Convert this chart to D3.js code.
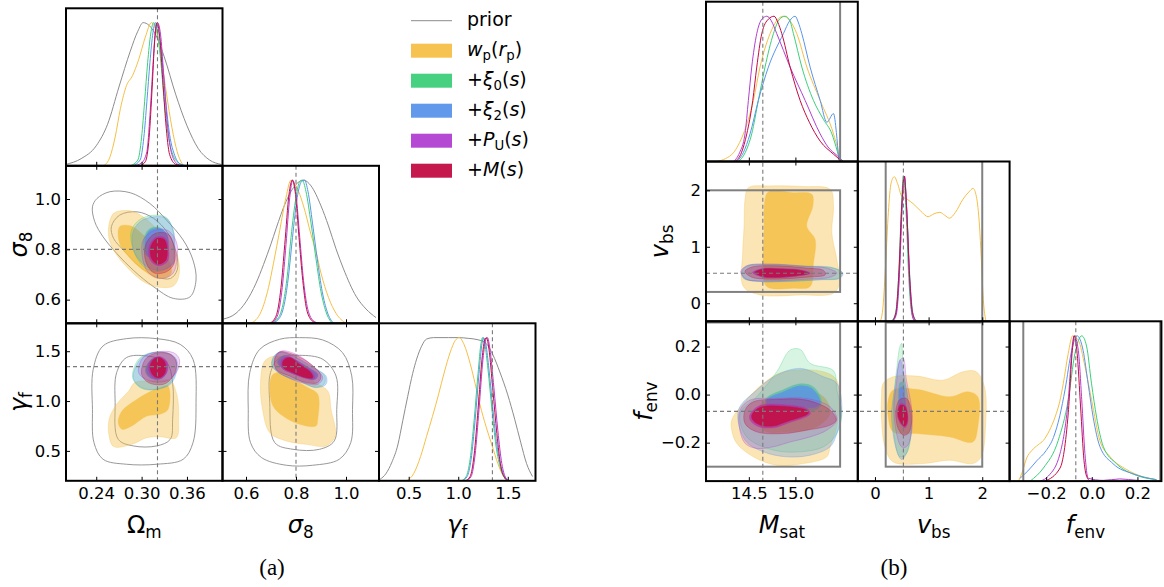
<!DOCTYPE html>
<html>
<head>
<meta charset="utf-8">
<script src="https://cdnjs.cloudflare.com/ajax/libs/d3/7.8.5/d3.min.js"></script>
<style>body{margin:0;background:#fff}</style>
</head>
<body>
<script>
// ---------- (a) cosmology ----------
const omDomain = [0.2, 0.407];
const s8Domain = [0.506, 1.132];
const gfDomain = [0.2, 1.78];
const omTicks = [0.24, 0.30, 0.36];
const s8Ticks = [0.6, 0.8, 1.0];
const gfTicks = [0.5, 1.0, 1.5];
const truthA = [0.321, 0.8, 1.345];

// 1D marginals [value, peak-normalised density]
const omPrior = [[0.2,0.01],[0.22,0.05],[0.24,0.14],[0.255,0.29],[0.27,0.55],[0.285,0.8],[0.295,0.94],[0.302,1.0],[0.31,0.98],[0.32,0.9],[0.33,0.76],[0.345,0.5],[0.36,0.28],[0.375,0.12],[0.39,0.04],[0.405,0.01]];
const omWp = [[0.25,0],[0.258,0.06],[0.265,0.2],[0.272,0.4],[0.28,0.56],[0.288,0.63],[0.296,0.74],[0.305,0.9],[0.313,1.0],[0.32,0.93],[0.327,0.72],[0.333,0.5],[0.34,0.27],[0.347,0.1],[0.355,0]];
const omXi0 = [[0.285,0],[0.295,0.04],[0.3,0.2],[0.304,0.45],[0.308,0.72],[0.312,0.92],[0.316,1.0],[0.32,0.95],[0.325,0.75],[0.33,0.45],[0.335,0.22],[0.342,0.07],[0.352,0.01],[0.36,0]];
const omXi2 = [[0.288,0],[0.298,0.04],[0.303,0.2],[0.307,0.45],[0.311,0.72],[0.315,0.93],[0.3185,1.0],[0.322,0.95],[0.327,0.75],[0.332,0.45],[0.337,0.22],[0.344,0.07],[0.352,0.01],[0.36,0]];
const omPu = [[0.29,0],[0.3,0.02],[0.307,0.1],[0.311,0.35],[0.315,0.7],[0.318,0.93],[0.321,1.0],[0.325,0.92],[0.329,0.65],[0.334,0.3],[0.34,0.08],[0.348,0.01],[0.355,0]];
const omMs = [[0.298,0],[0.305,0.03],[0.31,0.2],[0.314,0.55],[0.317,0.85],[0.3205,1.0],[0.324,0.9],[0.328,0.6],[0.332,0.3],[0.337,0.08],[0.345,0.01],[0.352,0]];

const s8Prior = [[0.51,0.03],[0.56,0.07],[0.6,0.15],[0.64,0.28],[0.67,0.41],[0.7,0.555],[0.72,0.66],[0.76,0.85],[0.8,0.97],[0.83,1.0],[0.86,0.96],[0.9,0.82],[0.93,0.68],[0.96,0.52],[0.99,0.38],[1.04,0.19],[1.08,0.1],[1.12,0.04]];
const s8Wp = [[0.62,0],[0.66,0.08],[0.69,0.25],[0.71,0.42],[0.735,0.65],[0.76,0.88],[0.78,1.0],[0.8,0.96],[0.83,0.82],[0.86,0.62],[0.88,0.5],[0.9,0.35],[0.93,0.18],[0.96,0.07],[1.0,0]];
const s8Xi0 = [[0.7,0],[0.73,0.04],[0.75,0.15],[0.765,0.33],[0.78,0.6],[0.8,0.88],[0.815,0.99],[0.825,1.0],[0.84,0.92],[0.86,0.7],[0.88,0.45],[0.9,0.22],[0.92,0.08],[0.945,0]];
const s8Xi2 = [[0.705,0],[0.735,0.04],[0.755,0.15],[0.77,0.33],[0.786,0.6],[0.805,0.88],[0.822,0.99],[0.834,1.0],[0.848,0.92],[0.866,0.7],[0.885,0.45],[0.905,0.22],[0.925,0.08],[0.95,0]];
const s8Pu = [[0.7,0],[0.725,0.05],[0.745,0.25],[0.76,0.55],[0.775,0.88],[0.787,1.0],[0.8,0.9],[0.815,0.6],[0.83,0.3],[0.85,0.08],[0.875,0.01],[0.895,0]];
const s8Ms = [[0.695,0],[0.72,0.05],[0.74,0.25],[0.755,0.55],[0.772,0.9],[0.785,1.0],[0.798,0.9],[0.812,0.6],[0.827,0.3],[0.845,0.08],[0.87,0.01],[0.89,0]];

const gfPrior = [[0.21,0.01],[0.27,0.05],[0.33,0.13],[0.39,0.25],[0.44,0.42],[0.49,0.59],[0.54,0.75],[0.58,0.85],[0.63,0.94],[0.68,0.99],[0.75,1.0],[0.9,1.0],[1.0,1.0],[1.1,0.995],[1.2,0.985],[1.28,0.96],[1.35,0.88],[1.42,0.76],[1.5,0.6],[1.57,0.43],[1.63,0.27],[1.69,0.12],[1.75,0.03]];
const gfWp = [[0.48,0],[0.55,0.05],[0.62,0.17],[0.68,0.31],[0.74,0.45],[0.8,0.6],[0.86,0.76],[0.92,0.9],[0.97,0.98],[1.01,1.0],[1.06,0.95],[1.12,0.82],[1.17,0.68],[1.22,0.53],[1.28,0.38],[1.34,0.25],[1.4,0.12],[1.45,0.04],[1.5,0]];
const gfXi0 = [[1.03,0],[1.08,0.03],[1.12,0.15],[1.16,0.42],[1.2,0.75],[1.23,0.96],[1.245,1.0],[1.27,0.95],[1.3,0.78],[1.34,0.5],[1.38,0.25],[1.43,0.08],[1.48,0.01],[1.5,0]];
const gfXi2 = [[1.04,0],[1.09,0.03],[1.13,0.15],[1.17,0.42],[1.21,0.75],[1.24,0.96],[1.255,1.0],[1.28,0.95],[1.31,0.78],[1.35,0.5],[1.39,0.25],[1.44,0.08],[1.49,0.01],[1.51,0]];
const gfPu = [[1.08,0],[1.13,0.03],[1.17,0.18],[1.21,0.5],[1.25,0.85],[1.28,0.99],[1.295,1.0],[1.32,0.92],[1.36,0.65],[1.4,0.35],[1.44,0.12],[1.48,0.02],[1.51,0]];
const gfMs = [[1.07,0],[1.12,0.03],[1.16,0.18],[1.2,0.5],[1.24,0.85],[1.27,0.99],[1.285,1.0],[1.31,0.92],[1.35,0.63],[1.39,0.33],[1.43,0.1],[1.47,0.02],[1.5,0]];

// 2D contours, [outer (2 sigma), inner (1 sigma)]
const omS8Prior = [
  [[0.235,0.969],[0.238,0.91],[0.249,0.85],[0.267,0.784],[0.289,0.717],[0.316,0.651],[0.342,0.605],[0.364,0.611],[0.372,0.678],[0.368,0.757],[0.355,0.837],[0.333,0.916],[0.311,0.982],[0.285,1.025],[0.258,1.029],[0.241,1.002]],
  [[0.26,0.89],[0.271,0.936],[0.294,0.949],[0.316,0.923],[0.335,0.863],[0.346,0.784],[0.347,0.717],[0.338,0.684],[0.32,0.691],[0.298,0.731],[0.276,0.797],[0.263,0.843]]];
const omS8Wp = [
  [[0.263,0.943],[0.285,0.953],[0.302,0.929],[0.322,0.876],[0.34,0.823],[0.349,0.757],[0.349,0.691],[0.342,0.654],[0.324,0.649],[0.305,0.667],[0.28,0.731],[0.263,0.797],[0.256,0.863]],
  [[0.271,0.89],[0.287,0.892],[0.3,0.863],[0.32,0.81],[0.338,0.744],[0.338,0.698],[0.322,0.684],[0.305,0.711],[0.285,0.764],[0.271,0.823]]];
const omS8Xi0 = [
  [[0.286,0.87],[0.296,0.915],[0.314,0.935],[0.332,0.928],[0.341,0.88],[0.343,0.81],[0.34,0.74],[0.323,0.712],[0.305,0.725],[0.29,0.79]],
  [[0.303,0.84],[0.31,0.88],[0.323,0.887],[0.333,0.86],[0.333,0.8],[0.323,0.768],[0.306,0.776]]];
const omS8Xi2 = [
  [[0.288,0.863],[0.298,0.91],[0.316,0.929],[0.333,0.923],[0.342,0.876],[0.344,0.81],[0.342,0.744],[0.324,0.717],[0.307,0.731],[0.291,0.784]],
  [[0.305,0.837],[0.311,0.876],[0.324,0.883],[0.334,0.857],[0.334,0.797],[0.324,0.764],[0.308,0.773]]];
const omS8Pu = [
  [[0.302,0.837],[0.316,0.874],[0.334,0.876],[0.346,0.83],[0.347,0.764],[0.341,0.702],[0.324,0.684],[0.308,0.711],[0.301,0.77]],
  [[0.31,0.812],[0.319,0.848],[0.331,0.845],[0.336,0.797],[0.334,0.752],[0.322,0.735],[0.311,0.76]]];
const omS8Ms = [
  [[0.306,0.823],[0.318,0.863],[0.335,0.861],[0.343,0.81],[0.343,0.744],[0.333,0.711],[0.316,0.707],[0.305,0.757]],
  [[0.312,0.81],[0.32,0.843],[0.33,0.839],[0.334,0.797],[0.332,0.757],[0.322,0.741],[0.313,0.764]]];

const omGfPrior = [
  [[0.235,0.917],[0.236,1.319],[0.249,1.553],[0.28,1.626],[0.32,1.626],[0.351,1.569],[0.368,1.419],[0.372,0.984],[0.368,0.583],[0.355,0.416],[0.32,0.366],[0.28,0.366],[0.249,0.416],[0.237,0.583]],
  [[0.265,0.984],[0.267,1.285],[0.28,1.436],[0.307,1.452],[0.333,1.386],[0.341,1.185],[0.341,0.817],[0.338,0.617],[0.32,0.55],[0.289,0.55],[0.269,0.617]]];
const omGfWp = [
  [[0.257,0.817],[0.267,0.968],[0.283,1.101],[0.291,1.185],[0.316,1.202],[0.338,1.202],[0.347,1.051],[0.349,0.817],[0.346,0.633],[0.324,0.643],[0.307,0.633],[0.287,0.566],[0.263,0.543],[0.257,0.65]],
  [[0.269,0.784],[0.274,0.9],[0.294,1.018],[0.309,1.085],[0.324,1.135],[0.335,1.151],[0.335,0.917],[0.324,0.867],[0.307,0.85],[0.287,0.75],[0.274,0.717]]];
const omGfXi0 = [
  [[0.288,1.24],[0.296,1.42],[0.31,1.48],[0.332,1.485],[0.345,1.42],[0.345,1.29],[0.336,1.17],[0.319,1.115],[0.299,1.13]],
  [[0.305,1.3],[0.311,1.405],[0.321,1.435],[0.331,1.395],[0.332,1.29],[0.324,1.225],[0.311,1.235]]];
const omGfXi2 = [
  [[0.289,1.235],[0.298,1.419],[0.311,1.479],[0.333,1.486],[0.346,1.419],[0.346,1.285],[0.338,1.168],[0.32,1.118],[0.3,1.135]],
  [[0.306,1.31],[0.312,1.41],[0.322,1.44],[0.332,1.4],[0.333,1.29],[0.325,1.22],[0.312,1.235]]];
const omGfPu = [
  [[0.296,1.285],[0.302,1.436],[0.32,1.492],[0.342,1.486],[0.35,1.419],[0.347,1.302],[0.333,1.202],[0.311,1.202]],
  [[0.309,1.335],[0.315,1.425],[0.325,1.445],[0.334,1.39],[0.333,1.28],[0.324,1.225],[0.314,1.245]]];
const omGfMs = [
  [[0.3,1.268],[0.305,1.419],[0.318,1.479],[0.338,1.469],[0.346,1.386],[0.342,1.252],[0.329,1.168],[0.309,1.185]],
  [[0.311,1.335],[0.316,1.419],[0.324,1.436],[0.331,1.386],[0.331,1.285],[0.324,1.235],[0.316,1.252]]];

const s8GfPrior = [
  [[0.609,0.917],[0.615,1.285],[0.655,1.519],[0.735,1.62],[0.814,1.636],[0.907,1.613],[0.986,1.486],[1.023,1.252],[1.026,0.917],[1.019,0.583],[0.973,0.416],[0.867,0.356],[0.761,0.356],[0.662,0.433],[0.618,0.583]],
  [[0.695,0.984],[0.698,1.285],[0.735,1.436],[0.814,1.459],[0.907,1.419],[0.96,1.252],[0.963,0.917],[0.953,0.6],[0.894,0.516],[0.788,0.516],[0.715,0.583]]];
const s8GfWp = [
  [[0.658,1.185],[0.675,1.402],[0.721,1.452],[0.788,1.386],[0.867,1.202],[0.927,1.101],[0.94,0.917],[0.957,0.65],[0.92,0.55],[0.841,0.566],[0.761,0.6],[0.695,0.683],[0.666,0.917]],
  [[0.695,1.151],[0.708,1.268],[0.741,1.285],[0.788,1.218],[0.847,1.135],[0.887,1.068],[0.887,0.817],[0.88,0.75],[0.814,0.767],[0.748,0.85],[0.708,0.951]]];
const s8GfXi0 = [
  [[0.703,1.36],[0.712,1.44],[0.735,1.49],[0.79,1.45],[0.87,1.34],[0.915,1.25],[0.912,1.17],[0.875,1.14],[0.81,1.2],[0.74,1.27]],
  [[0.725,1.39],[0.745,1.45],[0.78,1.43],[0.84,1.35],[0.88,1.27],[0.87,1.22],[0.83,1.24],[0.76,1.31]]];
const s8GfXi2 = [
  [[0.705,1.352],[0.708,1.436],[0.735,1.492],[0.788,1.452],[0.867,1.335],[0.92,1.252],[0.92,1.168],[0.88,1.135],[0.814,1.202],[0.741,1.268]],
  [[0.728,1.385],[0.748,1.448],[0.784,1.43],[0.845,1.345],[0.888,1.265],[0.875,1.215],[0.835,1.235],[0.765,1.3]]];
const s8GfPu = [
  [[0.715,1.436],[0.741,1.502],[0.801,1.469],[0.867,1.352],[0.907,1.235],[0.887,1.168],[0.834,1.178],[0.768,1.235],[0.719,1.319]],
  [[0.742,1.41],[0.772,1.448],[0.818,1.375],[0.866,1.285],[0.874,1.228],[0.842,1.225],[0.784,1.278],[0.744,1.33]]];
const s8GfMs = [
  [[0.715,1.419],[0.735,1.492],[0.788,1.469],[0.86,1.369],[0.9,1.252],[0.887,1.185],[0.841,1.185],[0.774,1.252],[0.721,1.319]],
  [[0.748,1.402],[0.774,1.436],[0.814,1.369],[0.86,1.285],[0.867,1.235],[0.841,1.235],[0.788,1.285],[0.75,1.335]]];

// ---------- (b) HOD ----------
const msatDomain = [14.04, 15.67];
const vbsDomain = [-0.32, 2.51];
const fenvDomain = [-0.36, 0.305];
const msatTicks = [14.5, 15.0];
const vbsTicks = [0, 1, 2];
const fenvTicks = [-0.2, 0.0, 0.2];
const truthB = [14.65, 0.53, -0.07];
const priorB = [[14.0, 15.48], [0.2, 2.0], [-0.3, 0.3]];

const msatWp = [[14.155,0],[14.25,0.02],[14.334,0.06],[14.441,0.19],[14.549,0.42],[14.62,0.65],[14.728,0.88],[14.8,0.97],[14.871,1.0],[14.94,0.97],[15.015,0.88],[15.123,0.65],[15.266,0.42],[15.409,0.19],[15.46,0.07],[15.48,0]];
const msatXi0 = [[14.387,0],[14.46,0.06],[14.531,0.19],[14.602,0.42],[14.674,0.65],[14.764,0.88],[14.83,0.98],[14.889,1.0],[14.94,0.97],[14.979,0.88],[15.069,0.65],[15.194,0.42],[15.301,0.29],[15.392,0.19],[15.45,0.07],[15.48,0]];
const msatXi2 = [[14.37,0],[14.44,0.06],[14.513,0.19],[14.602,0.42],[14.71,0.65],[14.871,0.88],[14.94,0.97],[14.997,1.0],[15.03,0.96],[15.069,0.88],[15.158,0.65],[15.266,0.42],[15.338,0.27],[15.409,0.33],[15.44,0.2],[15.465,0.01]];
const msatPu = [[14.334,0],[14.4,0.06],[14.459,0.19],[14.495,0.42],[14.531,0.65],[14.585,0.88],[14.64,0.98],[14.693,1.0],[14.74,0.97],[14.8,0.88],[14.943,0.65],[15.105,0.42],[15.266,0.19],[15.35,0.1],[15.45,0.04],[15.516,0]];
const msatMs = [[14.352,0],[14.42,0.06],[14.478,0.19],[14.542,0.42],[14.585,0.65],[14.639,0.88],[14.71,0.98],[14.771,1.0],[14.81,0.96],[14.854,0.88],[14.943,0.65],[15.051,0.42],[15.15,0.27],[15.266,0.14],[15.41,0.05],[15.5,0]];

const vbsWp = [[0.1,0],[0.15,0.1],[0.2,0.4],[0.25,0.75],[0.3,0.95],[0.36,0.995],[0.42,0.95],[0.5,0.86],[0.6,0.84],[0.71,0.81],[0.85,0.76],[0.99,0.72],[1.1,0.74],[1.21,0.75],[1.3,0.73],[1.39,0.71],[1.5,0.75],[1.64,0.84],[1.75,0.89],[1.83,0.915],[1.89,0.86],[1.95,0.65],[1.98,0.45],[2.02,0.15],[2.07,0]];
const vbsXi0 = [[0.3,0],[0.38,0.05],[0.44,0.3],[0.49,0.75],[0.53,1.0],[0.58,0.75],[0.63,0.3],[0.69,0.05],[0.76,0]];
const vbsXi2 = [[0.31,0],[0.39,0.05],[0.45,0.3],[0.5,0.75],[0.545,1.0],[0.595,0.75],[0.65,0.3],[0.71,0.05],[0.78,0]];
const vbsPu = [[0.33,0],[0.4,0.05],[0.46,0.35],[0.51,0.82],[0.55,1.0],[0.6,0.7],[0.65,0.25],[0.7,0.03],[0.74,0]];
const vbsMs = [[0.32,0],[0.39,0.06],[0.45,0.36],[0.5,0.8],[0.545,1.0],[0.59,0.78],[0.64,0.35],[0.7,0.06],[0.77,0]];

const fenvWp = [[-0.321,0],[-0.305,0.06],[-0.285,0.16],[-0.263,0.21],[-0.235,0.25],[-0.212,0.28],[-0.185,0.35],[-0.161,0.44],[-0.14,0.55],[-0.125,0.67],[-0.103,0.88],[-0.084,1.0],[-0.059,0.97],[-0.03,0.79],[-0.001,0.56],[0.035,0.28],[0.079,0.17],[0.152,0.08],[0.224,0.03],[0.283,0.01]];
const fenvXi0 = [[-0.27,0],[-0.212,0.09],[-0.147,0.28],[-0.103,0.56],[-0.074,0.877],[-0.044,1.0],[-0.023,0.93],[-0.001,0.67],[0.021,0.44],[0.05,0.24],[0.108,0.12],[0.195,0.04],[0.283,0.01]];
const fenvXi2 = [[-0.314,0.02],[-0.28,0.07],[-0.241,0.14],[-0.2,0.21],[-0.168,0.3],[-0.14,0.45],[-0.117,0.63],[-0.088,0.9],[-0.064,1.0],[-0.038,0.9],[-0.016,0.67],[0.006,0.44],[0.035,0.24],[0.093,0.12],[0.181,0.05],[0.283,0.01]];
const fenvPu = [[-0.226,0],[-0.19,0.035],[-0.139,0.19],[-0.103,0.56],[-0.084,0.95],[-0.077,1.0],[-0.059,0.9],[-0.044,0.56],[-0.03,0.19],[-0.016,0.02],[0.05,0.005],[0.123,0.015],[0.2,0.005],[0.25,0]];
const fenvMs = [[-0.205,0],[-0.139,0.09],[-0.103,0.47],[-0.084,0.92],[-0.077,1.0],[-0.064,0.877],[-0.049,0.51],[-0.034,0.14],[-0.019,0.02],[-0.005,0]];

const msatVbsWp = [
  [[14.459,1.839],[14.495,2.047],[14.728,2.077],[15.087,2.067],[15.373,2.017],[15.409,1.721],[15.391,1.246],[15.445,0.771],[15.474,0.355],[15.409,0.177],[15.051,0.147],[14.621,0.147],[14.441,0.296],[14.434,0.89],[14.449,1.364]],
  [[14.674,1.839],[14.71,1.97],[14.979,1.958],[15.176,1.928],[15.187,1.721],[15.122,1.364],[15.212,1.127],[15.194,0.712],[15.158,0.296],[14.979,0.266],[14.692,0.296],[14.656,0.652],[14.663,1.246]]];
const msatVbsXi0 = [
  [[14.43,0.56],[14.48,0.66],[14.73,0.69],[15.09,0.66],[15.4,0.63],[15.5,0.54],[15.47,0.45],[15.27,0.42],[14.9,0.39],[14.62,0.385],[14.45,0.44]],
  [[14.56,0.545],[14.65,0.608],[14.84,0.61],[15.06,0.585],[15.15,0.533],[15.06,0.495],[14.84,0.458],[14.65,0.47]]];
const msatVbsXi2 = [
  [[14.42,0.563],[14.477,0.652],[14.728,0.682],[15.087,0.652],[15.409,0.622],[15.51,0.533],[15.481,0.444],[15.266,0.415],[14.907,0.385],[14.621,0.385],[14.441,0.444]],
  [[14.56,0.545],[14.65,0.608],[14.84,0.61],[15.06,0.585],[15.15,0.533],[15.06,0.495],[14.84,0.458],[14.65,0.47]]];
const msatVbsPu = [
  [[14.413,0.563],[14.477,0.664],[14.728,0.694],[15.122,0.652],[15.337,0.622],[15.445,0.533],[15.373,0.462],[15.122,0.426],[14.728,0.397],[14.477,0.426]],
  [[14.54,0.545],[14.64,0.612],[14.836,0.612],[15.06,0.588],[15.16,0.533],[15.06,0.49],[14.836,0.455],[14.64,0.466]]];
const msatVbsMs = [
  [[14.459,0.563],[14.531,0.64],[14.764,0.664],[15.122,0.622],[15.302,0.581],[15.32,0.504],[15.122,0.462],[14.764,0.426],[14.531,0.462]],
  [[14.567,0.545],[14.656,0.605],[14.836,0.605],[15.051,0.581],[15.14,0.533],[15.051,0.498],[14.836,0.462],[14.656,0.474]]];

const msatFenvWp = [
  [[14.316,-0.106],[14.441,-0.037],[14.656,0.047],[14.872,0.095],[15.302,0.095],[15.445,0.06],[15.463,-0.023],[15.445,-0.134],[15.373,-0.217],[15.337,-0.259],[15.087,-0.287],[14.8,-0.294],[14.549,-0.259],[14.37,-0.203],[14.316,-0.148]],
  [[14.585,-0.065],[14.764,-0.009],[15.051,0.019],[15.302,-0.009],[15.373,-0.078],[15.23,-0.134],[14.943,-0.155],[14.656,-0.148]]];
const msatFenvXi0 = [
  [[14.406,-0.078],[14.585,-0.009],[14.8,0.095],[14.943,0.185],[15.051,0.188],[15.158,0.13],[15.409,0.099],[15.445,0.019],[15.499,-0.078],[15.445,-0.162],[15.302,-0.217],[15.051,-0.238],[14.764,-0.231],[14.477,-0.176]],
  [[14.68,-0.02],[14.87,0.02],[15.06,0.045],[15.2,0.03],[15.28,-0.03],[15.24,-0.06],[14.94,-0.06],[14.72,-0.065]]];
const msatFenvXi2 = [
  [[14.388,-0.065],[14.585,0.019],[14.8,0.081],[15.051,0.109],[15.302,0.074],[15.445,0.047],[15.499,-0.065],[15.445,-0.162],[15.373,-0.217],[15.158,-0.252],[14.907,-0.259],[14.656,-0.238],[14.459,-0.19]],
  [[14.692,-0.023],[14.872,0.012],[15.051,0.037],[15.176,0.026],[15.266,-0.03],[15.23,-0.051],[14.943,-0.051],[14.728,-0.058]]];
const msatFenvPu = [
  [[14.406,-0.065],[14.513,-0.023],[14.8,-0.016],[15.122,-0.016],[15.373,-0.051],[15.445,-0.106],[15.337,-0.148],[15.158,-0.176],[14.943,-0.197],[14.764,-0.217],[14.585,-0.224],[14.459,-0.203],[14.398,-0.134]],
  [[14.51,-0.085],[14.61,-0.047],[14.872,-0.042],[15.13,-0.06],[15.16,-0.08],[14.91,-0.12],[14.764,-0.138],[14.61,-0.134],[14.52,-0.11]]];
const msatFenvMs = [
  [[14.459,-0.065],[14.549,-0.03],[14.8,-0.02],[15.122,-0.023],[15.373,-0.065],[15.438,-0.106],[15.373,-0.127],[15.122,-0.148],[14.872,-0.162],[14.585,-0.155],[14.459,-0.12]],
  [[14.531,-0.085],[14.621,-0.053],[14.872,-0.048],[15.122,-0.065],[15.14,-0.078],[14.907,-0.113],[14.764,-0.131],[14.621,-0.127],[14.542,-0.106]]];

const vbsFenvWp = [
  [[0.123,-0.009],[0.154,0.047],[0.34,0.074],[0.773,0.077],[1.268,0.06],[1.64,0.095],[1.887,0.095],[2.042,0.033],[2.061,-0.134],[1.98,-0.259],[1.825,-0.287],[1.392,-0.273],[0.897,-0.287],[0.34,-0.28],[0.185,-0.217],[0.123,-0.106]],
  [[0.247,-0.023],[0.34,0.019],[0.773,0.022],[1.392,-0.009],[1.733,0.012],[1.918,-0.009],[1.918,-0.134],[1.825,-0.197],[1.392,-0.176],[0.773,-0.162],[0.34,-0.155],[0.247,-0.092]]];
const vbsFenvXi0 = [
  [[0.41,0.116],[0.464,0.199],[0.495,0.213],[0.526,0.116],[0.618,-0.023],[0.68,-0.134],[0.587,-0.245],[0.464,-0.259],[0.371,-0.19],[0.34,-0.065]],
  [[0.44,-0.02],[0.47,0.05],[0.53,0.05],[0.56,-0.02],[0.56,-0.08],[0.46,-0.09]]];
const vbsFenvXi2 = [
  [[0.371,0.033],[0.433,0.116],[0.475,0.144],[0.526,0.088],[0.618,-0.023],[0.68,-0.134],[0.587,-0.245],[0.495,-0.27],[0.402,-0.231],[0.309,-0.092]],
  [[0.45,-0.009],[0.475,0.03],[0.526,0.03],[0.556,-0.009],[0.556,-0.065],[0.464,-0.065]]];
const vbsFenvPu = [
  [[0.402,0.047],[0.464,0.144],[0.526,0.151],[0.587,0.06],[0.68,-0.051],[0.68,-0.162],[0.587,-0.217],[0.495,-0.217],[0.402,-0.162],[0.353,-0.051]],
  [[0.425,-0.062],[0.47,-0.038],[0.56,-0.042],[0.61,-0.078],[0.61,-0.118],[0.56,-0.138],[0.49,-0.126],[0.425,-0.095]]];
const vbsFenvMs = [
  [[0.402,-0.051],[0.464,-0.02],[0.587,-0.016],[0.68,-0.065],[0.68,-0.12],[0.618,-0.162],[0.526,-0.169],[0.433,-0.141],[0.39,-0.092]],
  [[0.433,-0.065],[0.475,-0.044],[0.556,-0.048],[0.6,-0.078],[0.6,-0.113],[0.556,-0.131],[0.495,-0.12],[0.433,-0.092]]];

// legend
const chainColors = ["#f5bf47", "#3ccf7a", "#5a94ea", "#b13fd1", "#c20c42"];
const outerAlpha = [0.4, 0.2, 0.3, 0.2, 0.3];
const innerAlpha = [0.85, 0.6, 0.8, 0.7, 0.85];
const priorColor = "#8c8c8c";
const legendLabels = [
  [["prior", "r"]],
  [["w", "i"], ["p", "sub"], ["(", "r"], ["r", "i"], ["p", "sub"], [")", "r"]],
  [["+", "r"], ["ξ", "i"], ["0", "sub"], ["(", "r"], ["s", "i"], [")", "r"]],
  [["+", "r"], ["ξ", "i"], ["2", "sub"], ["(", "r"], ["s", "i"], [")", "r"]],
  [["+", "r"], ["P", "i"], ["U", "sub"], ["(", "r"], ["s", "i"], [")", "r"]],
  [["+", "r"], ["M", "i"], ["(", "r"], ["s", "i"], [")", "r"]]
];

const FONT = "DejaVu Sans";
const svg = d3.select("body").append("svg")
  .attr("width", 1164)
  .attr("height", 587);

// mathtext-like label: italic symbols, upright subscripts
function mathText(el, parts, size) {
  const sub = size * 0.7, shift = size * 0.22;
  let down = false;
  parts.forEach(([t, k]) => {
    const ts = el.append("tspan").text(t);
    if (k === "sub") {
      ts.attr("font-size", sub).attr("font-style", "normal");
      if (!down) { ts.attr("dy", shift); down = true; }
    } else {
      ts.attr("font-size", size).attr("font-style", k === "i" ? "italic" : "normal");
      if (down) { ts.attr("dy", -shift); down = false; }
    }
  });
}

let clipN = 0;
function drawCorner(fig) {
  const n = fig.params.length;
  const xs = fig.params.map(p => d3.scaleLinear().domain(p.domain).range([0, fig.w]));
  const ys = fig.params.map(p => d3.scaleLinear().domain(p.domain).range([fig.h, 0]));
  const yd = d3.scaleLinear().domain([0, 1.1]).range([fig.h, 0]);
  const root = svg.append("g");

  for (let i = 0; i < n; i++) {
    for (let j = 0; j <= i; j++) {
      const pg = root.append("g")
        .attr("transform", `translate(${fig.x0 + j * fig.w},${fig.y0 + i * fig.h})`);
      const id = "clip" + (clipN++);
      pg.append("clipPath").attr("id", id)
        .append("rect").attr("width", fig.w).attr("height", fig.h);
      const body = pg.append("g").attr("clip-path", `url(#${id})`);
      const x = xs[j];

      if (i === j) {
        // marginals
        const line = d3.line().x(d => x(d[0])).y(d => yd(d[1])).curve(d3.curveMonotoneX);
        body.selectAll("path.c")
          .data(fig.diag[i])
          .enter()
          .append("path")
          .attr("d", d => line(d.pts))
          .attr("fill", "none")
          .attr("stroke", d => d.color)
          .attr("stroke-width", 1);
        const pr = fig.params[i].prior;
        if (pr) {
          body.selectAll("line.pr")
            .data(pr)
            .enter()
            .append("line")
            .attr("x1", d => x(d)).attr("x2", d => x(d))
            .attr("y1", 0).attr("y2", fig.h)
            .attr("stroke", "#808080").attr("stroke-width", 2);
        }
      } else {
        const y = ys[i];
        const pair = fig.pairs[`${i}${j}`];
        const area = d3.line().x(d => x(d[0])).y(d => y(d[1])).curve(d3.curveCatmullRomClosed.alpha(0.5));
        if (pair.prior) {
          body.selectAll("path.pc")
            .data(pair.prior)
            .enter()
            .append("path")
            .attr("d", area)
            .attr("fill", "none")
            .attr("stroke", priorColor)
            .attr("stroke-width", 0.9);
        }
        pair.fills.forEach((c, k) => {
          const col = chainColors[k];
          body.append("path").attr("d", area(c[0]))
            .attr("fill", col).attr("fill-opacity", outerAlpha[k])
            .attr("stroke", col).attr("stroke-opacity", 0.4).attr("stroke-width", 0.8);
          body.append("path").attr("d", area(c[1]))
            .attr("fill", col).attr("fill-opacity", innerAlpha[k])
            .attr("stroke", col).attr("stroke-opacity", 0.4).attr("stroke-width", 0.8);
        });
        const px = fig.params[j].prior, py = fig.params[i].prior;
        if (px && py) {
          body.append("rect")
            .attr("x", x(px[0])).attr("y", y(py[1]))
            .attr("width", x(px[1]) - x(px[0])).attr("height", y(py[0]) - y(py[1]))
            .attr("fill", "none").attr("stroke", "#808080").attr("stroke-width", 2);
        }
      }
    }
  }

  // truth lines
  const dash = root.append("g")
    .attr("stroke", "#7a7a7a").attr("stroke-width", 1.1).attr("stroke-dasharray", "4,3");
  fig.params.forEach((p, j) => {
    const xv = fig.x0 + j * fig.w + xs[j](p.truth);
    dash.append("line").attr("x1", xv).attr("x2", xv)
      .attr("y1", fig.y0 + j * fig.h).attr("y2", fig.y0 + n * fig.h);
    if (j > 0) {
      const yv = fig.y0 + j * fig.h + ys[j](p.truth);
      dash.append("line").attr("y1", yv).attr("y2", yv)
        .attr("x1", fig.x0).attr("x2", fig.x0 + j * fig.w);
    }
  });

  // frames, ticks and labels
  for (let i = 0; i < n; i++) {
    for (let j = 0; j <= i; j++) {
      const pg = root.append("g")
        .attr("transform", `translate(${fig.x0 + j * fig.w},${fig.y0 + i * fig.h})`);
      const x = xs[j], y = ys[i];
      const tx = fig.params[j].ticks, ty = fig.params[i].ticks;
      const strip = a => a.select(".domain").remove();
      pg.append("g").attr("transform", `translate(0,${fig.h})`)
        .call(d3.axisBottom(x).tickValues(tx).tickSize(-4).tickFormat("")).call(strip);
      if (i !== j) {
        pg.append("g").call(d3.axisTop(x).tickValues(tx).tickSize(-4).tickFormat("")).call(strip);
        pg.append("g").call(d3.axisLeft(y).tickValues(ty).tickSize(-4).tickFormat("")).call(strip);
        pg.append("g").attr("transform", `translate(${fig.w},0)`)
          .call(d3.axisRight(y).tickValues(ty).tickSize(-4).tickFormat("")).call(strip);
      }
      if (i === n - 1) {
        pg.append("g").attr("transform", `translate(0,${fig.h})`)
          .call(d3.axisBottom(x).tickValues(tx).tickSize(0).tickPadding(6).tickFormat(d3.format(fig.params[j].fmt)))
          .call(strip)
          .attr("font-family", FONT).attr("font-size", 16.5);
      }
      if (j === 0 && i > 0) {
        pg.append("g")
          .call(d3.axisLeft(y).tickValues(ty).tickSize(0).tickPadding(5).tickFormat(d3.format(fig.params[i].fmt)))
          .call(strip)
          .attr("font-family", FONT).attr("font-size", 16.5);
      }
      pg.append("rect")
        .attr("width", fig.w).attr("height", fig.h)
        .attr("fill", "none").attr("stroke", "#000").attr("stroke-width", 2);
    }
  }

  // axis names
  fig.params.forEach((p, k) => {
    const t = root.append("text")
      .attr("x", fig.x0 + (k + 0.5) * fig.w).attr("y", 533)
      .attr("text-anchor", "middle")
      .attr("font-family", FONT).attr("fill", "#000");
    mathText(t, p.label, 24);
    if (k > 0) {
      const r = root.append("text")
        .attr("transform", `translate(${fig.ylabelX[k]},${fig.y0 + (k + 0.5) * fig.h}) rotate(-90)`)
        .attr("text-anchor", "middle")
        .attr("font-family", FONT).attr("fill", "#000");
      mathText(r, p.label, 24);
    }
  });

  svg.append("text")
    .attr("x", fig.captionX).attr("y", 575)
    .attr("text-anchor", "middle")
    .attr("font-family", "Liberation Serif").attr("font-size", 23)
    .text(fig.caption);
}

function chainCurves(list, withPrior) {
  const cols = withPrior ? [priorColor].concat(chainColors) : chainColors;
  return list.map((pts, k) => ({ pts: pts, color: cols[k] }));
}

drawCorner({
  x0: 66, y0: 8.3, w: 156.5, h: 157.5, ylabelX: [0, 27, 27], caption: "(a)", captionX: 272,
  params: [
    { domain: omDomain, ticks: omTicks, fmt: ".2f", truth: truthA[0], label: [["Ω", "r"], ["m", "sub"]] },
    { domain: s8Domain, ticks: s8Ticks, fmt: ".1f", truth: truthA[1], label: [["σ", "i"], ["8", "sub"]] },
    { domain: gfDomain, ticks: gfTicks, fmt: ".1f", truth: truthA[2], label: [["γ", "i"], ["f", "sub"]] }
  ],
  diag: [
    chainCurves([omPrior, omWp, omXi0, omXi2, omPu, omMs], true),
    chainCurves([s8Prior, s8Wp, s8Xi0, s8Xi2, s8Pu, s8Ms], true),
    chainCurves([gfPrior, gfWp, gfXi0, gfXi2, gfPu, gfMs], true)
  ],
  pairs: {
    "10": { prior: omS8Prior, fills: [omS8Wp, omS8Xi0, omS8Xi2, omS8Pu, omS8Ms] },
    "20": { prior: omGfPrior, fills: [omGfWp, omGfXi0, omGfXi2, omGfPu, omGfMs] },
    "21": { prior: s8GfPrior, fills: [s8GfWp, s8GfXi0, s8GfXi2, s8GfPu, s8GfMs] }
  }
});

drawCorner({
  x0: 706, y0: 1.7, w: 151.8, h: 159.8, ylabelX: [0, 668, 652], caption: "(b)", captionX: 894,
  params: [
    { domain: msatDomain, ticks: msatTicks, fmt: ".1f", truth: truthB[0], prior: priorB[0], label: [["M", "i"], ["sat", "sub"]] },
    { domain: vbsDomain, ticks: vbsTicks, fmt: ".0f", truth: truthB[1], prior: priorB[1], label: [["v", "i"], ["bs", "sub"]] },
    { domain: fenvDomain, ticks: fenvTicks, fmt: ".1f", truth: truthB[2], prior: priorB[2], label: [["f", "i"], ["env", "sub"]] }
  ],
  diag: [
    chainCurves([msatWp, msatXi0, msatXi2, msatPu, msatMs], false),
    chainCurves([vbsWp, vbsXi0, vbsXi2, vbsPu, vbsMs], false),
    chainCurves([fenvWp, fenvXi0, fenvXi2, fenvPu, fenvMs], false)
  ],
  pairs: {
    "10": { prior: null, fills: [msatVbsWp, msatVbsXi0, msatVbsXi2, msatVbsPu, msatVbsMs] },
    "20": { prior: null, fills: [msatFenvWp, msatFenvXi0, msatFenvXi2, msatFenvPu, msatFenvMs] },
    "21": { prior: null, fills: [vbsFenvWp, vbsFenvXi0, vbsFenvXi2, vbsFenvPu, vbsFenvMs] }
  }
});

// legend
const legend = svg.append("g").attr("font-family", FONT);
legendLabels.forEach((parts, k) => {
  const cy = 20.7 + k * 30;
  if (k === 0) {
    legend.append("line")
      .attr("x1", 411).attr("x2", 452).attr("y1", cy).attr("y2", cy)
      .attr("stroke", priorColor).attr("stroke-width", 1);
  } else {
    legend.append("rect")
      .attr("x", 411).attr("y", cy - 7).attr("width", 41).attr("height", 14)
      .attr("fill", chainColors[k - 1]).attr("fill-opacity", 0.95);
  }
  const t = legend.append("text")
    .attr("x", 467).attr("y", cy).attr("dy", "0.35em").attr("fill", "#000");
  mathText(t, parts, 19);
});
</script>
</body>
</html>
